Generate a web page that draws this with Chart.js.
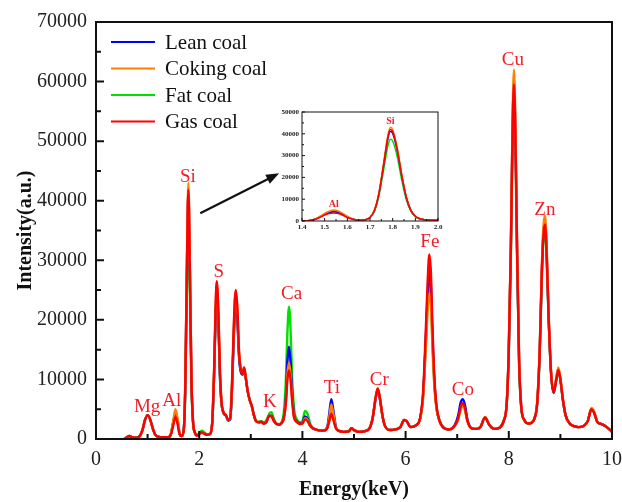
<!DOCTYPE html>
<html lang="en">
<head>
<meta charset="utf-8">
<script src="https://cdn.jsdelivr.net/npm/chart.js@4.4.1/dist/chart.umd.min.js"></script>
<title>XRF spectra of coal</title>
<style>
  html, body { margin: 0; padding: 0; background: #fff; }
  #wrap { position: relative; width: 622px; height: 502px; }
  #main { position: absolute; left: 0; top: 0; }
  #inset { position: absolute; left: 262px; top: 104px; }
</style>
</head>
<body>
<div id="wrap">
  <canvas id="main" width="622" height="502"></canvas>
  <canvas id="inset" width="184" height="132"></canvas>
</div>
<script>
// ---- data ----
const seriesNames = ['Lean coal', 'Coking coal', 'Fat coal', 'Gas coal'];

const energy = [
  0.55,0.6,0.65,0.7,0.75,0.8,0.85,0.9,0.95,1.0,
  1.05,1.1,1.15,1.2,1.3,1.4,1.45,1.5,1.54,1.58,
  1.62,1.66,1.7,1.73,1.76,1.79,1.82,1.85,1.88,1.92,
  1.96,2.0,2.05,2.1,2.15,2.2,2.25,2.29,2.32,2.34,
  2.37,2.4,2.43,2.47,2.52,2.56,2.6,2.63,2.66,2.69,
  2.71,2.74,2.77,2.8,2.84,2.87,2.9,2.94,2.98,3.02,
  3.06,3.1,3.15,3.2,3.25,3.3,3.36,3.4,3.45,3.5,
  3.55,3.6,3.64,3.68,3.71,3.74,3.77,3.8,3.84,3.9,
  3.95,4.0,4.05,4.1,4.15,4.2,4.3,4.4,4.48,4.52,
  4.56,4.6,4.65,4.7,4.8,4.9,4.95,5.0,5.1,5.2,
  5.3,5.36,5.42,5.46,5.5,5.55,5.6,5.7,5.8,5.9,
  5.97,6.02,6.1,6.2,6.28,6.34,6.39,6.43,6.46,6.49,
  6.52,6.56,6.6,6.66,6.75,6.85,6.95,7.02,7.07,7.11,
  7.15,7.2,7.28,7.38,7.45,7.54,7.62,7.72,7.82,7.9,
  7.96,8.0,8.04,8.07,8.1,8.13,8.16,8.2,8.24,8.3,
  8.38,8.45,8.5,8.55,8.6,8.64,8.67,8.7,8.73,8.77,
  8.82,8.87,8.92,8.96,9.0,9.05,9.1,9.18,9.25,9.35,
  9.45,9.53,9.6,9.65,9.72,9.8,9.9,10.0
];

const leanCoal = [
  0,300,500,300,200,250,500,1500,3200,4000,
  3300,1800,700,400,300,300,800,2800,4200,3000,
  900,500,1500,8800,27500,41500,27800,10000,3000,1000,
  600,800,1100,900,700,800,2400,11000,21000,24000,
  20000,11000,6200,4400,3900,3100,3300,7000,14500,21000,
  22500,20000,14000,11500,10800,11800,10300,8000,6500,5500,
  4000,3000,2800,2900,2600,2800,3900,3900,3000,2500,
  2400,2700,3600,7000,13000,15500,13000,8000,4000,2900,
  2600,2700,3800,3400,2300,1800,1500,1400,2000,4200,
  6700,4800,2000,1400,1200,1300,1800,1500,1200,1300,
  1800,3400,6800,8300,6800,4000,2200,1500,1600,2000,
  3200,3000,2000,2300,3400,7500,16500,25000,28500,26000,
  17500,9500,5200,3000,1800,1600,2300,4000,6200,6700,
  5700,3200,1800,1700,2000,3600,2400,1700,1900,3000,
  6000,15000,32000,50500,60000,50500,32000,13000,5500,3200,
  2600,2800,3500,6000,15000,28000,34500,36500,32500,21000,
  11000,7800,10000,11700,10000,6500,4000,2600,2200,2000,
  2200,3000,5000,4500,2800,2500,2000,1200
];

const cokingCoal = [
  0,300,500,300,200,250,500,1500,3200,4000,
  3300,1800,700,400,300,300,900,3200,5000,3500,
  1000,500,1500,9300,29000,43000,29000,10300,3000,1000,
  600,800,1100,900,700,800,2500,12000,22500,26000,
  21500,12000,6400,4500,4000,3200,3400,7600,15500,23000,
  24500,21500,14800,12000,11000,12000,10500,8000,6500,5500,
  4000,3000,2800,2900,2600,2800,3900,3800,3000,2500,
  2400,2700,3500,6300,11000,12800,11000,7000,3600,2800,
  2500,2600,3500,3200,2200,1800,1500,1400,1900,3600,
  5800,4200,1900,1400,1200,1300,1800,1500,1200,1300,
  1800,3500,7000,8500,7000,4000,2200,1500,1600,2000,
  3200,3000,2000,2300,3300,7000,15000,22000,24500,22500,
  15500,8500,5000,3000,1800,1600,2100,3300,5000,5500,
  4800,2900,1800,1700,2000,3700,2400,1700,1900,3000,
  6200,15500,33000,52000,62000,52000,33000,13500,5600,3200,
  2600,2800,3500,6200,15500,29000,35500,37500,33500,21500,
  11200,8000,10300,12000,10300,6600,4000,2600,2200,2000,
  2200,3000,5200,4700,2800,2500,2000,1200
];

const fatCoal = [
  0,300,500,300,200,250,500,1500,3200,4000,
  3300,1800,700,400,300,300,800,3000,4600,3200,
  900,500,1400,7800,24000,35000,24000,8800,2800,1000,
  700,1000,1400,1100,800,800,2400,11000,21500,24500,
  20500,11000,6200,4400,3900,3100,3300,7200,15000,21500,
  22000,20000,14500,11800,11000,11800,10400,8000,6500,5500,
  4100,3100,2900,3000,2800,3100,4300,4500,3300,2600,
  2500,2900,4500,10000,18000,22200,18500,10500,5000,3200,
  2800,3000,4700,4200,2600,1900,1500,1400,1800,2900,
  4500,3400,1800,1400,1200,1300,1800,1500,1200,1300,
  1800,3400,6900,8400,6900,4000,2200,1500,1600,2000,
  3200,3000,2000,2300,3400,7300,16000,23500,26000,24000,
  16500,9000,5200,3000,1800,1600,2200,3400,5300,5800,
  5000,3000,1800,1700,2000,3600,2400,1700,1900,3000,
  5800,14500,30500,47500,56000,47500,30500,12500,5300,3200,
  2600,2800,3500,5800,14500,27000,33000,35000,31000,20500,
  10800,7700,9800,11400,9800,6400,4000,2600,2200,2000,
  2200,3000,5000,4500,2800,2500,2000,1200
];

const gasCoal = [
  0,300,500,300,200,250,500,1500,3200,4000,
  3300,1800,700,400,300,300,700,2400,3700,2600,
  800,500,1500,9000,28000,41800,28000,10000,3000,1000,
  600,800,1100,900,700,800,2500,12000,23000,26500,
  22000,12000,6500,4500,4000,3200,3500,8000,16000,23500,
  25000,22000,15000,12000,11000,12000,10500,8000,6500,5500,
  4000,3000,2800,2900,2600,2800,3900,3800,3000,2500,
  2400,2700,3500,6000,10000,11500,10000,6500,3500,2800,
  2500,2600,3300,3000,2200,1800,1500,1400,1800,3000,
  4200,3200,1800,1400,1200,1300,1800,1500,1200,1300,
  1800,3500,7000,8500,7000,4000,2200,1500,1600,2000,
  3200,3000,2000,2300,3500,8000,18000,27000,31000,28000,
  19000,10000,5500,3000,1800,1600,2200,3500,5500,6000,
  5200,3000,1800,1700,2000,3600,2400,1700,1900,3000,
  6000,15000,32000,50000,59500,50000,32000,13000,5500,3200,
  2600,2800,3500,6000,15000,28000,34000,36000,32000,21000,
  11000,7800,10000,11600,10000,6500,4000,2600,2200,2000,
  2200,3000,5000,4500,2800,2500,2000,1200
];

// inset: zoom on the Al / Si region
const insetEnergy = [
  1.40,1.42,1.44,1.46,1.48,1.50,1.52,1.54,1.56,1.58,
  1.60,1.62,1.64,1.66,1.68,1.70,1.72,1.74,1.76,1.78,
  1.79,1.80,1.82,1.84,1.86,1.88,1.90,1.92,1.94,1.97,
  2.00
];
const insetLean = [
  100,150,300,900,1900,3000,3800,4200,3900,3000,
  1900,1000,500,400,600,1600,4900,12800,25500,38300,
  41000,40200,32400,20600,10800,4900,2200,1000,600,400,
  300
];
const insetCoking = [
  100,150,350,1000,2200,3500,4500,5000,4600,3500,
  2200,1100,550,400,600,1600,5100,13300,26600,39900,
  43000,42000,33800,21500,11200,5100,2200,1000,600,400,
  300
];
const insetFat = [
  100,150,350,1000,2100,3300,4200,4600,4300,3300,
  2100,1100,550,400,600,1500,4500,11700,23300,34900,
  37500,36700,29500,18800,9800,4500,2000,900,600,400,
  300
];
const insetGas = [
  100,150,300,800,1700,2700,3400,3700,3400,2600,
  1600,900,500,400,600,1600,5000,13000,26000,39000,
  42000,41000,33000,21000,11000,5000,2200,1000,600,400,
  300
];

// peak names and where their labels sit (keV, counts)
const peakLabels = [
  ['Mg', 0.99, 5400], ['Al', 1.47, 6300], ['Si', 1.78, 44000],
  ['S', 2.38, 28000], ['K', 3.37, 6200], ['Ca', 3.79, 24300],
  ['Ti', 4.57, 8600], ['Cr', 5.49, 9900], ['Fe', 6.47, 33000],
  ['Co', 7.11, 8200], ['Cu', 8.08, 63700], ['Zn', 8.70, 38500]
];
const insetLabels = [['Al', 1.54, 7500], ['Si', 1.79, 45800]];

const colors = ['#0000ff', '#ff8000', '#00e000', '#ff0000'];
const serif = 'Liberation Serif, Times New Roman, serif';
const labelRed = '#f01e28';

function pts(xs, ys) { return xs.map((e, i) => ({x: e, y: ys[i]})); }

function makeSets(xs, arrays, width) {
  // red drawn on top, green at the bottom
  const drawOrder = [2, 1, 3, 0];
  return arrays.map((ys, i) => ({
    label: seriesNames[i],
    data: pts(xs, ys),
    borderColor: colors[i],
    borderWidth: width,
    pointRadius: 0,
    cubicInterpolationMode: 'monotone',
    order: drawOrder[i]
  }));
}

function frameAndTicks(chart, xStep, yStep, major, minor, lw) {
  const {ctx, chartArea: a, scales: {x, y}} = chart;
  ctx.save();
  ctx.strokeStyle = '#111';
  ctx.lineWidth = lw;
  ctx.strokeRect(a.left, a.top, a.right - a.left, a.bottom - a.top);
  ctx.beginPath();
  let k = 0;
  for (let v = x.min; v <= x.max + 1e-9; v += xStep / 2, k++) {
    const px = x.getPixelForValue(v);
    ctx.moveTo(px, a.bottom);
    ctx.lineTo(px, a.bottom - (k % 2 === 0 ? major : minor));
  }
  k = 0;
  for (let v = y.min; v <= y.max + 1e-9; v += yStep / 2, k++) {
    const py = y.getPixelForValue(v);
    ctx.moveTo(a.left, py);
    ctx.lineTo(a.left + (k % 2 === 0 ? major : minor), py);
  }
  ctx.stroke();
  ctx.restore();
}

const mainDeco = {
  id: 'mainDeco',
  afterDatasetsDraw(chart) {
    const {ctx, chartArea: a, scales: {x, y}} = chart;
    frameAndTicks(chart, 2, 10000, 8, 5, 2);
    ctx.save();
    // peak names
    ctx.fillStyle = labelRed;
    ctx.font = '19px ' + serif;
    ctx.textAlign = 'center';
    ctx.textBaseline = 'middle';
    peakLabels.forEach(([t, e, v]) => ctx.fillText(t, x.getPixelForValue(e), y.getPixelForValue(v)));
    // arrow pointing to the inset
    const x0 = x.getPixelForValue(2.02), y0 = y.getPixelForValue(37900);
    const x1 = x.getPixelForValue(3.55), y1 = y.getPixelForValue(44600);
    const ang = Math.atan2(y1 - y0, x1 - x0);
    ctx.strokeStyle = '#111';
    ctx.fillStyle = '#111';
    ctx.lineWidth = 2.2;
    ctx.beginPath();
    ctx.moveTo(x0, y0);
    ctx.lineTo(x1 - 8 * Math.cos(ang), y1 - 8 * Math.sin(ang));
    ctx.stroke();
    ctx.beginPath();
    ctx.moveTo(x1, y1);
    ctx.lineTo(x1 - 13 * Math.cos(ang) + 5 * Math.sin(ang), y1 - 13 * Math.sin(ang) - 5 * Math.cos(ang));
    ctx.lineTo(x1 - 13 * Math.cos(ang) - 5 * Math.sin(ang), y1 - 13 * Math.sin(ang) + 5 * Math.cos(ang));
    ctx.closePath();
    ctx.fill();
    // legend, in series order
    ctx.font = '21px ' + serif;
    ctx.textAlign = 'left';
    chart.data.datasets.forEach((ds, i) => {
      const ly = a.top + 20 + i * 26.5;
      ctx.strokeStyle = ds.borderColor;
      ctx.lineWidth = 2;
      ctx.beginPath();
      ctx.moveTo(a.left + 15, ly);
      ctx.lineTo(a.left + 59, ly);
      ctx.stroke();
      ctx.fillStyle = '#111';
      ctx.fillText(ds.label, a.left + 69, ly + 1);
    });
    ctx.restore();
  }
};

const insetDeco = {
  id: 'insetDeco',
  afterDatasetsDraw(chart) {
    const {ctx, scales: {x, y}} = chart;
    frameAndTicks(chart, 0.1, 10000, 3, 2, 1);
    ctx.save();
    ctx.fillStyle = labelRed;
    ctx.font = 'bold 10px ' + serif;
    ctx.textAlign = 'center';
    ctx.textBaseline = 'middle';
    insetLabels.forEach(([t, e, v]) => ctx.fillText(t, x.getPixelForValue(e), y.getPixelForValue(v)));
    ctx.restore();
  }
};

new Chart(document.getElementById('main'), {
  type: 'line',
  data: { datasets: makeSets(energy, [leanCoal, cokingCoal, fatCoal, gasCoal], 2.4) },
  options: {
    responsive: false,
    animation: false,
    layout: { padding: { top: 22, right: 10, left: 0, bottom: 0 } },
    plugins: { legend: { display: false }, tooltip: { enabled: false } },
    scales: {
      x: {
        type: 'linear', min: 0, max: 10,
        ticks: { stepSize: 2, color: '#222', padding: 9, maxRotation: 0,
                 font: { family: serif, size: 20 } },
        grid: { display: false, drawTicks: false },
        border: { display: false },
        title: { display: true, text: 'Energy(keV)', color: '#111',
                 font: { family: serif, size: 20, weight: 'bold' },
                 padding: { top: 0, bottom: 0 } },
        afterFit(s) { s.height = 63; s.paddingLeft = 0; s.paddingRight = 0; }
      },
      y: {
        min: 0, max: 70000,
        ticks: { stepSize: 10000, color: '#222', padding: 9,
                 font: { family: serif, size: 20 },
                 callback: v => String(v) },
        grid: { display: false, drawTicks: false },
        border: { display: false },
        title: { display: true, text: 'Intensity(a.u.)', color: '#111',
                 font: { family: serif, size: 20, weight: 'bold' },
                 padding: { top: 14, bottom: 0 } },
        afterFit(s) { s.width = 96; s.paddingTop = 0; s.paddingBottom = 0; }
      }
    }
  },
  plugins: [mainDeco]
});

new Chart(document.getElementById('inset'), {
  type: 'line',
  data: { datasets: makeSets(insetEnergy, [insetLean, insetCoking, insetFat, insetGas], 1.5) },
  options: {
    responsive: false,
    animation: false,
    layout: { padding: { top: 8, right: 8, left: 0, bottom: 0 } },
    plugins: { legend: { display: false }, tooltip: { enabled: false } },
    scales: {
      x: {
        type: 'linear', min: 1.4, max: 2.0,
        ticks: { stepSize: 0.1, color: '#222', padding: 2, maxRotation: 0,
                 font: { family: serif, size: 7, weight: 'bold' },
                 callback: v => v.toFixed(1) },
        grid: { display: false, drawTicks: false },
        border: { display: false },
        afterFit(s) { s.height = 15; s.paddingLeft = 0; s.paddingRight = 0; }
      },
      y: {
        min: 0, max: 50000,
        ticks: { stepSize: 10000, color: '#222', padding: 3,
                 font: { family: serif, size: 7, weight: 'bold' },
                 callback: v => String(v) },
        grid: { display: false, drawTicks: false },
        border: { display: false },
        afterFit(s) { s.width = 40; s.paddingTop = 0; s.paddingBottom = 0; }
      }
    }
  },
  plugins: [insetDeco]
});
</script>
</body>
</html>
